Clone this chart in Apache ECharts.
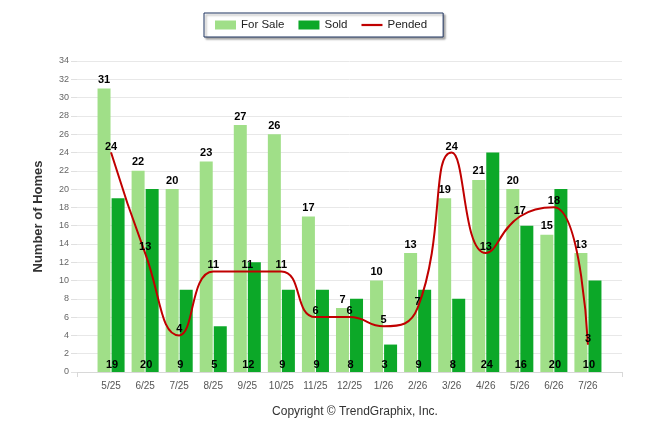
<!DOCTYPE html>
<html>
<head>
<meta charset="utf-8">
<script src="https://cdn.jsdelivr.net/npm/echarts@6/dist/echarts.min.js"></script>
<style>
  html, body { margin: 0; padding: 0; background: #fff; }
  #chart { width: 646px; height: 434px; }
</style>
</head>
<body>
<div id="chart"></div>
<script>
// months, padded with an empty slot at each end
var months = ['5/25', '6/25', '7/25', '8/25', '9/25', '10/25', '11/25', '12/25',
              '1/26', '2/26', '3/26', '4/26', '5/26', '6/26', '7/26'];
var forSale = [31, 22, 20, 23, 27, 26, 17, 7, 10, 13, 19, 21, 20, 15, 13];
var sold = [19, 20, 9, 5, 12, 9, 9, 8, 3, 9, 8, 24, 16, 20, 10];
var pended = [24, 13, 4, 11, 11, 11, 6, 6, 5, 7, 24, 13, 17, 18, 3];

function pad(arr) { return ['-'].concat(arr, ['-']); }

var chart = echarts.init(document.getElementById('chart'));
var font = 'Arial, "Liberation Sans", sans-serif';

var option = {
    textStyle: { fontFamily: font },
    animation: false,
    legend: {
        top: 13,
        left: 204,
        padding: [6, 16, 6, 11],
        itemGap: 14,
        itemWidth: 21,
        itemHeight: 9,
        borderColor: '#1f3460',
        borderWidth: 1,
        backgroundColor: '#fff',
        shadowColor: 'rgba(0,0,0,0.35)',
        shadowBlur: 2,
        shadowOffsetX: 2,
        shadowOffsetY: 2,
        textStyle: { fontSize: 11.5, color: '#222', fontFamily: font },
        data: [
            { name: 'For Sale', icon: 'rect' },
            { name: 'Sold', icon: 'rect' },
            { name: 'Pended', icon: 'path://M0,0 L21,0 L21,2.2 L0,2.2 Z' }
        ]
    },
    title: {
        text: 'Copyright \u00a9 TrendGraphix, Inc.',
        left: 350,
        textAlign: 'center',
        top: 401,
        textStyle: { fontSize: 12, fontWeight: 'normal', color: '#333', fontFamily: font }
    },
    grid: { left: 77, right: 24, top: 61, bottom: 62 },
    xAxis: {
        type: 'category',
        boundaryGap: false,
        data: pad(months),
        axisLine: { lineStyle: { color: '#d8d8d8' } },
        axisTick: {
            lineStyle: { color: '#d8d8d8' },
            length: 5,
            interval: function (i) { return i === 0 || i === months.length + 1; }
        },
        axisLabel: {
            interval: 0,
            color: '#555',
            fontSize: 10,
            margin: 9,
            formatter: function (v) { return v === '-' ? '' : v; }
        }
    },
    yAxis: {
        type: 'value',
        min: 0,
        max: 34,
        interval: 2,
        name: 'Number of Homes',
        nameLocation: 'middle',
        nameGap: 32,
        nameTextStyle: { fontSize: 13, fontWeight: 'bold', color: '#333' },
        axisLine: { show: false },
        axisTick: { show: true, length: 6, lineStyle: { color: '#e0e0e0' } },
        axisLabel: { color: '#666', fontSize: 9, margin: 8 },
        splitLine: { lineStyle: { color: '#e8e8e8' } }
    },
    series: [
        {
            name: 'For Sale',
            type: 'bar',
            barWidth: 13,
            barGap: '8%',
            itemStyle: { color: '#a0df88' },
            label: {
                show: true,
                position: 'top',
                distance: 3,
                color: '#000',
                fontWeight: 'bold',
                fontSize: 11
            },
            data: pad(forSale)
        },
        {
            name: 'Sold',
            type: 'bar',
            barWidth: 13,
            itemStyle: { color: '#0ca828' },
            label: {
                show: true,
                position: 'insideBottom',
                distance: 2,
                color: '#000',
                fontWeight: 'bold',
                fontSize: 11,
                offset: [-6, 0]
            },
            data: pad(sold)
        },
        {
            name: 'Pended',
            type: 'line',
            smooth: 0.5,
            symbol: 'circle',
            symbolSize: 1,
            itemStyle: { color: '#c00000' },
            lineStyle: { color: '#c00000', width: 2 },
            z: 5,
            label: {
                show: true,
                position: 'top',
                distance: 0,
                color: '#000',
                fontWeight: 'bold',
                fontSize: 11
            },
            data: pad(pended)
        }
    ]
};
chart.setOption(option);
</script>
</body>
</html>
